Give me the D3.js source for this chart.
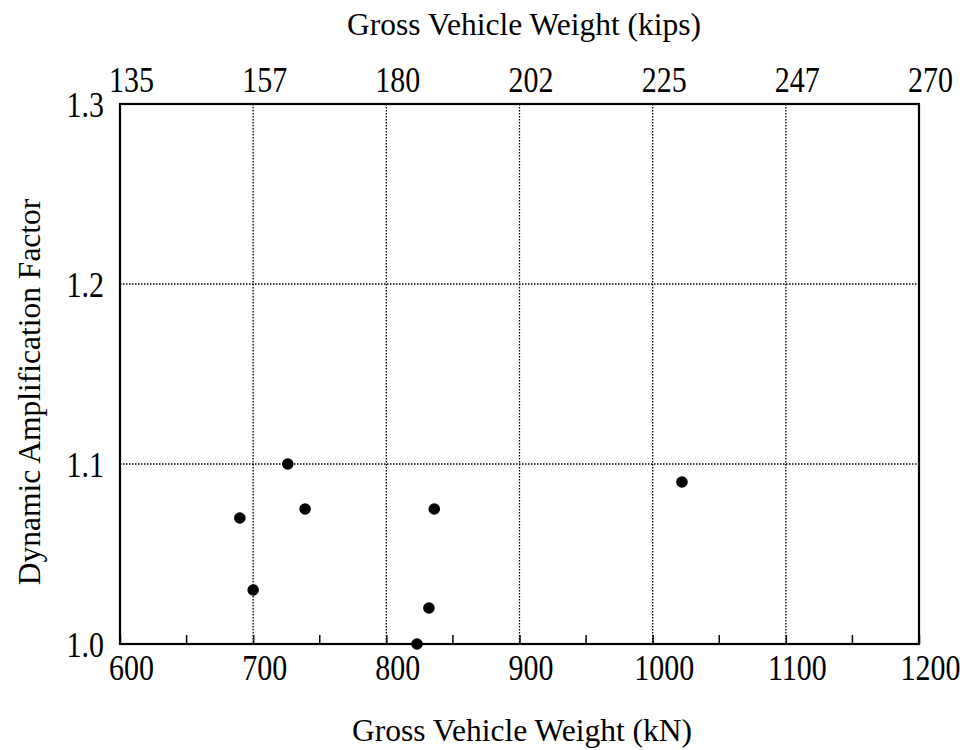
<!DOCTYPE html>
<html>
<head>
<meta charset="utf-8">
<script src="https://cdn.jsdelivr.net/npm/d3@7"></script>
<style>
  body { margin: 0; background: #fff; }
  text { font-family: "Liberation Serif", "DejaVu Serif", serif; fill: #000; }
</style>
</head>
<body>
<script>
// Chart data
var weight_kN = [690, 700, 726, 739, 823, 832, 836, 1022];
var daf = [1.07, 1.03, 1.10, 1.075, 1.00, 1.02, 1.075, 1.09];

var kN_ticks = [600, 700, 800, 900, 1000, 1100, 1200];
var kN_minor = [650, 750, 850, 950, 1050, 1150];
var kip_labels = ["135", "157", "180", "202", "225", "247", "270"];
var daf_ticks = [1.0, 1.1, 1.2, 1.3];

// Canvas
var svg_width = 967;
var svg_height = 750;
var svg = d3.select("body").append("svg")
  .attr("width", svg_width)
  .attr("height", svg_height);

// Plot box (note: "top" is reserved by window, so use plot_*)
var plot_left = 120, plot_right = 919, plot_top = 104, plot_bottom = 644;

var x = d3.scaleLinear().domain([600, 1200]).range([plot_left, plot_right]);
var y = d3.scaleLinear().domain([1.0, 1.3]).range([plot_bottom, plot_top]);

// tick labels in the scan are a little taller than wide
function label_style(sel, tx, ty) {
  sel.attr("font-size", 30)
    .attr("font-family", "Liberation Serif")
    .attr("x", null).attr("y", null).attr("dy", null)
    .attr("transform", "translate(" + tx + "," + ty + ") scale(1,1.2)");
}

// Dotted grid
svg.append("g").selectAll("line")
    .data(kN_ticks.slice(1, -1)).enter()
  .append("line")
    .attr("x1", function(d) { return x(d); })
    .attr("x2", function(d) { return x(d); })
    .attr("y1", plot_top)
    .attr("y2", plot_bottom)
    .attr("stroke", "#000")
    .attr("stroke-width", 1.3)
    .attr("stroke-dasharray", "1.5,1.5");

svg.append("g").selectAll("line")
    .data(daf_ticks.slice(1, -1)).enter()
  .append("line")
    .attr("x1", plot_left)
    .attr("x2", plot_right)
    .attr("y1", function(d) { return y(d); })
    .attr("y2", function(d) { return y(d); })
    .attr("stroke", "#000")
    .attr("stroke-width", 1.3)
    .attr("stroke-dasharray", "1.5,1.5");

// Bottom axis: inner ticks (major + minor), labels
var xAxis = d3.axisBottom(x)
  .tickValues(kN_ticks)
  .tickSize(-9)
  .tickPadding(0)
  .tickFormat(d3.format("d"));
var gx = svg.append("g")
  .attr("transform", "translate(0," + plot_bottom + ")")
  .call(xAxis);
gx.select(".domain").remove();
gx.selectAll("line").attr("stroke", "#000").attr("stroke-width", 1.5);
gx.selectAll("text").call(label_style, 11, 36);

svg.append("g").selectAll("line")
    .data(kN_minor).enter()
  .append("line")
    .attr("x1", function(d) { return x(d); })
    .attr("x2", function(d) { return x(d); })
    .attr("y1", plot_bottom)
    .attr("y2", plot_bottom - 9)
    .attr("stroke", "#000")
    .attr("stroke-width", 1.5);

// Top axis: kips labels at the same positions
var xTop = d3.axisTop(x)
  .tickValues(kN_ticks)
  .tickSize(0)
  .tickPadding(0)
  .tickFormat(function(d, i) { return kip_labels[i]; });
var gt = svg.append("g")
  .attr("transform", "translate(0," + plot_top + ")")
  .call(xTop);
gt.select(".domain").remove();
gt.selectAll("text").call(label_style, 11, -12);

// Left axis labels
var yAxis = d3.axisLeft(y)
  .tickValues(daf_ticks)
  .tickSize(0)
  .tickPadding(16)
  .tickFormat(d3.format(".1f"));
var gy = svg.append("g")
  .attr("transform", "translate(" + plot_left + ",0)")
  .call(yAxis);
gy.select(".domain").remove();
gy.selectAll("text").call(label_style, -16, 12);

// Frame
svg.append("rect")
  .attr("x", plot_left)
  .attr("y", plot_top)
  .attr("width", plot_right - plot_left)
  .attr("height", plot_bottom - plot_top)
  .attr("fill", "none")
  .attr("stroke", "#000")
  .attr("stroke-width", 2.2);

// Points
svg.append("g").selectAll("circle")
    .data(weight_kN).enter()
  .append("circle")
    .attr("cx", function(d) { return x(d); })
    .attr("cy", function(d, i) { return y(daf[i]); })
    .attr("r", 5.8)
    .attr("fill", "#000");

// Axis titles
svg.append("text")
  .attr("x", 524)
  .attr("y", 35)
  .attr("text-anchor", "middle")
  .attr("font-size", 31.5)
  .text("Gross Vehicle Weight (kips)");

svg.append("text")
  .attr("x", 522)
  .attr("y", 741)
  .attr("text-anchor", "middle")
  .attr("font-size", 31.5)
  .text("Gross Vehicle Weight (kN)");

svg.append("text")
  .attr("transform", "translate(40,392) rotate(-90)")
  .attr("text-anchor", "middle")
  .attr("font-size", 31.5)
  .text("Dynamic Amplification Factor");
</script>
</body>
</html>
